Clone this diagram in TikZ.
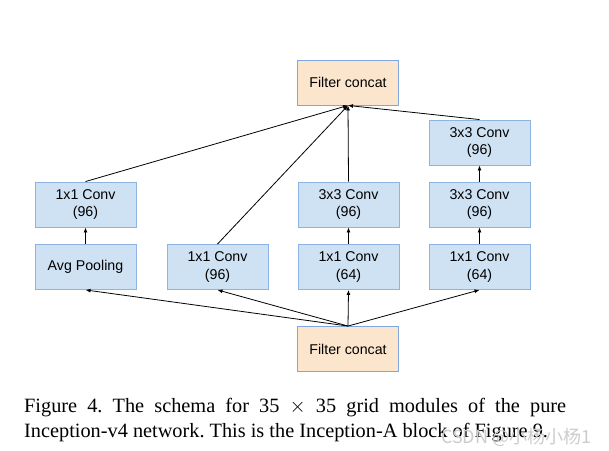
\documentclass[tikz,border=0pt]{standalone}
\usepackage{fontspec}
\setmainfont{Liberation Serif}
\setsansfont{Liberation Sans}
\newfontfamily\cjkwm{Noto Sans CJK SC}
\usetikzlibrary{arrows.meta}
\definecolor{bluefill}{HTML}{CFE2F3}
\definecolor{blueline}{HTML}{8DB3E2}
\definecolor{orangefill}{HTML}{FCE5CD}
\definecolor{orangeline}{HTML}{7FA6DE}
\begin{document}
\frenchspacing
\begin{tikzpicture}[x=1pt,y=1pt,
  convbox/.style={draw=blueline,fill=bluefill,line width=0.9pt,minimum width=101pt,minimum height=45pt,inner sep=0pt,align=center,font=\sffamily\fontsize{14.2}{17.5}\selectfont},
  concatbox/.style={convbox,draw=orangeline,fill=orangefill},
  conn/.style={black,line width=0.8pt,-{Latex[length=5pt,width=4pt]}}]
\useasboundingbox (0,0) rectangle (609,450);
\fill[white] (0,0) rectangle (609,450);
\node[concatbox] (top) at (348,367.5) {Filter concat};
\node[concatbox] (bot) at (348,101) {Filter concat};
\node[convbox] (a2) at (85.5,245.5) {1x1 Conv\\(96)};
\node[convbox] (a1) at (85.5,183) {Avg Pooling};
\node[convbox] (b1) at (217.5,183) {1x1 Conv\\(96)};
\node[convbox] (c2) at (348.5,245.5) {3x3 Conv\\(96)};
\node[convbox] (c1) at (348.5,183) {1x1 Conv\\(64)};
\node[convbox] (d3) at (479.5,307.5) {3x3 Conv\\(96)};
\node[convbox] (d2) at (479.5,245.5) {3x3 Conv\\(96)};
\node[convbox] (d1) at (479.5,183) {1x1 Conv\\(64)};
\foreach \n in {a1,b1,c1,d1} \draw[conn] (bot.north) -- (\n.south);
\draw[conn] (a1.north) -- (a2.south);
\draw[conn] (c1.north) -- (c2.south);
\draw[conn] (d1.north) -- (d2.south);
\draw[conn] (d2.north) -- (d3.south);
\foreach \n in {a2,b1,c2,d3} \draw[conn] (\n.north) -- (top.south);
\node[anchor=north west,inner sep=0pt,text width=542pt,align=justify,font=\rmfamily\fontsize{20.3}{25}\selectfont\frenchspacing] (cap) at (24,52)
 {Figure 4. The schema for 35 $\times$ 35 grid modules of the pure\linebreak Inception-v4 network. This is the Inception-A block of Figure 9.};
\node[anchor=base west,inner sep=0pt,text=gray!40,font=\cjkwm\fontsize{18}{20}\selectfont] (wm) at (441,7) {CSDN @小杨小杨1};
\end{tikzpicture}
\end{document}
